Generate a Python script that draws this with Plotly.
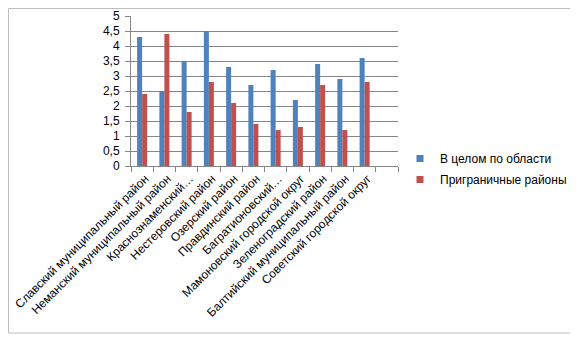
import plotly.graph_objects as go

categories = [
    "Славский муниципальный район",
    "Неманский муниципальный район",
    "Краснознаменский…",
    "Нестеровский район",
    "Озерский район",
    "Правдинский район",
    "Багратионовский…",
    "Мамоновский городской округ",
    "Зеленоградский район",
    "Балтийский муниципальный район",
    "Советский городской округ",
    " ",
]
region_values = [4.3, 2.5, 3.5, 4.5, 3.3, 2.7, 3.2, 2.2, 3.4, 2.9, 3.6, None]
border_values = [2.4, 4.4, 1.8, 2.8, 2.1, 1.4, 1.2, 1.3, 2.7, 1.2, 2.8, None]
series_names = ["В целом по области", "Приграничные районы"]
series_colors = ["#4F81BD", "#C0504D"]
y_ticks = [0, 0.5, 1, 1.5, 2, 2.5, 3, 3.5, 4, 4.5, 5]
y_tick_text = ["0", "0,5", "1", "1,5", "2", "2,5", "3", "3,5", "4", "4,5", "5"]

FONT = "Liberation Sans"

fig = go.Figure()
for vals, name, col in zip([region_values, border_values], series_names, series_colors):
    fig.add_trace(go.Bar(x=categories, y=vals, name=name, legendgroup=name,
                         showlegend=False,
                         marker=dict(color=col, line=dict(width=0))))
# legend entries with small square swatches
for name, col in zip(series_names, series_colors):
    fig.add_trace(go.Scatter(x=[None], y=[None], mode="markers", name=name,
                             legendgroup=name, showlegend=True,
                             marker=dict(symbol="square", size=7, color=col)))

# page body has an 8px margin: figure coords = screen coords - 8
W, H = 570, 331
L, T = 123, 8
R = W - 390
B = H - 158
pw, ph = W - L - R, H - T - B

fig.update_layout(
    width=W, height=H,
    margin=dict(l=L, r=R, t=T, b=B, pad=0, autoexpand=False),
    paper_bgcolor="white", plot_bgcolor="white",
    barmode="group", bargap=0.55, bargroupgap=0,
    font=dict(family=FONT, size=12, color="#000000"),
    showlegend=True,
    legend=dict(x=(392 - L) / pw, y=(ph + T - 136) / ph, xanchor="left", yanchor="top",
                font=dict(family=FONT, size=12), tracegroupgap=2,
                itemwidth=30, bgcolor="rgba(0,0,0,0)", traceorder="grouped"),
    xaxis=dict(
        type="category", tickangle=-45, tickfont=dict(family=FONT, size=12),
        showline=True, linecolor="#868686", linewidth=1, automargin=False,
        ticks="outside", ticklen=5, tickcolor="#868686", tickson="boundaries",
        ticklabelshift=3,
        showgrid=False, fixedrange=True,
    ),
    yaxis=dict(
        range=[0, 5], tickvals=y_ticks, ticktext=y_tick_text,
        tickfont=dict(family=FONT, size=12), automargin=False,
        showline=True, linecolor="#868686", linewidth=1,
        ticks="outside", ticklen=5, tickcolor="#868686", ticklabelstandoff=3,
        showgrid=True, gridcolor="#868686", gridwidth=1, zeroline=False,
        fixedrange=True,
    ),
    shapes=[dict(type="rect", xref="paper", yref="paper",
                 x0=(0.5 - L) / pw, x1=(567 - L) / pw,
                 y0=(T + ph - 325) / ph, y1=(T + ph - 0.5) / ph,
                 line=dict(color="#BFBFBF", width=1), fillcolor="rgba(0,0,0,0)",
                 layer="above")],
)

fig.write_html("out.html")
